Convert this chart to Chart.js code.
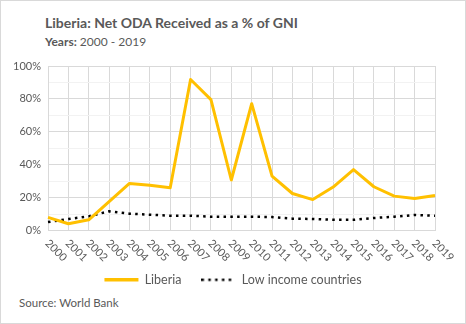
<!DOCTYPE html>
<html><head><meta charset="utf-8">
<script src="https://cdn.jsdelivr.net/npm/chart.js@4/dist/chart.umd.min.js"></script>
<style>
html,body{margin:0;padding:0;background:#fff;}
#wrap{position:relative;width:464px;height:322px;border:1px solid #d9d9d9;font-family:Lato,"Open Sans",sans-serif;color:#595959;overflow:hidden;}
#title{position:absolute;left:44px;top:13px;font-size:14px;font-weight:bold;white-space:nowrap;}
#sub{position:absolute;left:44px;top:33px;font-size:12px;white-space:nowrap;}
#src{position:absolute;left:18px;top:295px;font-size:11.5px;white-space:nowrap;}
canvas{position:absolute;left:0;top:0;}
</style></head><body>
<div id="wrap">
<div id="title">Liberia: Net ODA Received as a % of GNI</div>
<div id="sub"><b>Years:</b> 2000 - 2019</div>
<div id="src">Source: World Bank</div>
<canvas id="c" width="464" height="322"></canvas>
</div>
<script>
const years = ['2000','2001','2002','2003','2004','2005','2006','2007','2008','2009','2010','2011','2012','2013','2014','2015','2016','2017','2018','2019'];
const liberia = [8,4.1,6.5,17.5,28.6,27.5,26,91.8,79.6,30.7,77.1,33.1,22.5,18.8,26.4,37,26.6,20.9,19.4,21.3];
const lowIncome = [5.1,7,8.6,11.7,10.2,9.6,9,9,8.4,8.3,8.4,8.2,7.2,7,6.5,6.5,7.6,8.4,9.4,9];
const yTicks = [0,20,40,60,80,100];

// dotted legend sample
const dotImg = document.createElement('canvas');
dotImg.width = 34; dotImg.height = 4;
(function(){
  const g = dotImg.getContext('2d');
  g.strokeStyle = '#000'; g.lineWidth = 2.5;
  g.setLineDash([2.5,4.3]);
  g.beginPath(); g.moveTo(0,2); g.lineTo(34,2); g.stroke();
})();

const xLabels = {
  id:'xLabels',
  afterDraw(chart){
    const s = chart.scales.x, ctx = chart.ctx;
    ctx.save();
    ctx.fillStyle='#595959';
    ctx.font='11px Lato, "Open Sans", sans-serif';
    ctx.textAlign='left'; ctx.textBaseline='middle';
    s.ticks.forEach((t,i)=>{
      const x = s.getPixelForTick(i);
      ctx.save();
      ctx.translate(x-1, s.top+11);
      ctx.rotate(Math.PI/4);
      ctx.fillText(s.getLabelForValue(t.value),0,0);
      ctx.restore();
    });
    ctx.restore();
  }
};

new Chart(document.getElementById('c'),{
  type:'line',
  data:{labels:years,datasets:[
    {label:'Liberia',data:liberia,borderColor:'#FFC000',backgroundColor:'#FFC000',borderWidth:3,pointRadius:0,tension:0,borderJoinStyle:'round'},
    {label:'Low income countries',data:lowIncome,borderColor:'#000',backgroundColor:'#000',borderWidth:2.5,borderDash:[2.5,4.3],pointRadius:0,tension:0}
  ]},
  options:{
    responsive:false,animation:false,
    layout:{padding:{left:0,right:0,top:65,bottom:27}},
    plugins:{
      legend:{position:'bottom',labels:{usePointStyle:true,pointStyle:'line',pointStyleWidth:34,color:'#595959',font:{size:12.5,family:'Lato'},padding:20,boxHeight:8,
        generateLabels(chart){
          const items = Chart.defaults.plugins.legend.labels.generateLabels(chart);
          items.forEach((it,i)=>{ if(i===1){ it.pointStyle = dotImg; } else { it.pointStyle='line'; it.lineWidth=3.5; } });
          return items;
        }}},
      tooltip:{enabled:false}
    },
    scales:{
      x:{offset:false,grid:{color:'#d9d9d9',drawTicks:false},border:{color:'#d9d9d9'},
         ticks:{display:false},afterFit(s){s.height=23;}},
      y:{min:0,max:100,
         ticks:{stepSize:10,padding:7,color:'#595959',font:{size:11,family:'Lato'},callback:v=>yTicks.includes(v)?v+'%':''},
         grid:{drawTicks:false,color:c=>(c.tick&&c.tick.value%20===0)?'#d9d9d9':'#f2f2f2'},
         border:{color:'#d9d9d9'},afterFit(s){s.width=47;}},
      yRight:{position:'right',min:0,max:100,display:true,
         ticks:{display:false},grid:{display:false,drawTicks:false},border:{display:false},
         afterFit(s){s.width=30;}}
    }
  },
  plugins:[xLabels]
});
</script>
</body></html>
